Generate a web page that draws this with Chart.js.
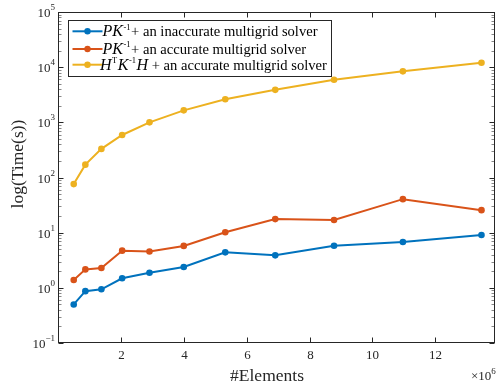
<!DOCTYPE html>
<html>
<head>
<meta charset="utf-8">
<script src="https://cdn.jsdelivr.net/npm/chart.js@4"></script>
<style>
  html, body { margin: 0; padding: 0; background: #fff; }
  canvas { display: block; }
</style>
</head>
<body>
<canvas id="timing_chart" width="499" height="388"></canvas>
<script>
// number of elements, in millions (x10^6)
var elementsM = [0.50, 0.87, 1.38, 2.04, 2.91, 4.00, 5.32, 6.91, 8.78, 10.97, 13.47];

// solve times in seconds
var inaccurateTimes = [0.50, 0.87, 0.94, 1.49, 1.88, 2.38, 4.4, 3.88, 5.8, 6.76, 9.05];
var accurateTimes   = [1.39, 2.16, 2.29, 4.72, 4.57, 5.75, 10.2, 17.6, 17.0, 40.5, 25.6];
var hkhTimes        = [76, 171, 330, 590, 1000, 1650, 2620, 3880, 5900, 8400, 12000];

var seriesNames = [
  "PK\u207B\u00B9+ an inaccurate multigrid solver",
  "PK\u207B\u00B9+ an accurate multigrid solver",
  "H\u1D40K\u207B\u00B9H + an accurate multigrid solver"
];
// same names, split for italic (i) / superscript (s) drawing in the legend
var legendParts = [
  [["PK", "i"], ["-1", "s"], ["+ an inaccurate multigrid solver", ""]],
  [["PK", "i"], ["-1", "s"], ["+ an accurate multigrid solver", ""]],
  [["H", "i"], ["T", "s"], ["K", "i"], ["-1", "s"], ["H", "i"], [" + an accurate multigrid solver", ""]]
];
var seriesColors = ["#0072BD", "#D95319", "#EDB120"];

var xTicks = [2, 4, 6, 8, 10, 12];
var yDecades = [-1, 0, 1, 2, 3, 4, 5];

var xTitle = "#Elements";
var yTitle = "log(Time(s))";

var FONT = "'Liberation Serif', 'Times New Roman', serif";
var INK = "#262626";

function toPoints(ys) {
  return elementsM.map(function (x, i) { return { x: x, y: ys[i] }; });
}

function drawRich(ctx, parts, x, y) {
  parts.forEach(function (p) {
    var txt = p[0], dy = 0;
    if (p[1] === "i") {
      ctx.font = "italic 16px " + FONT;
    } else if (p[1] === "s") {
      ctx.font = "8.5px " + FONT;
      dy = -6.5;
      x += 0.5;
    } else {
      ctx.font = "14.6px " + FONT;
    }
    ctx.fillText(txt, x, y + dy);
    x += ctx.measureText(txt).width + (p[1] === "s" ? 0.5 : 0);
  });
}

var matlabAxes = {
  id: "matlabAxes",
  afterDraw: function (chart) {
    var ctx = chart.ctx, a = chart.chartArea;
    var xs = chart.scales.x, ys = chart.scales.y;
    ctx.save();
    ctx.strokeStyle = INK;
    ctx.fillStyle = INK;
    ctx.lineWidth = 1;

    // box
    var L = Math.round(a.left) + 0.5, R = Math.round(a.right) - 0.5;
    var T = Math.round(a.top) + 0.5, B = Math.round(a.bottom) - 0.5;
    ctx.strokeRect(L, T, R - L, B - T);

    // x ticks
    ctx.font = "13px " + FONT;
    ctx.textAlign = "center";
    ctx.textBaseline = "middle";
    xTicks.forEach(function (v) {
      var px = Math.round(xs.getPixelForValue(v)) + 0.5;
      ctx.beginPath();
      ctx.moveTo(px, B); ctx.lineTo(px, B - 5);
      ctx.moveTo(px, T); ctx.lineTo(px, T + 5);
      ctx.stroke();
      ctx.fillText(String(v), px, B + 13);
    });

    // y ticks (major + minor)
    yDecades.forEach(function (e) {
      var py = Math.round(ys.getPixelForValue(Math.pow(10, e))) + 0.5;
      ctx.strokeStyle = INK;
      ctx.beginPath();
      ctx.moveTo(L, py); ctx.lineTo(L + 5, py);
      ctx.moveTo(R, py); ctx.lineTo(R - 5, py);
      ctx.stroke();

      var ex = e < 0 ? "\u2212" + (-e) : String(e);
      ctx.textAlign = "left";
      ctx.font = "9px " + FONT;
      var w2 = ctx.measureText(ex).width;
      ctx.font = "13px " + FONT;
      var w1 = ctx.measureText("10").width;
      var right = 55;
      ctx.fillText("10", right - w2 - w1, py + 1);
      ctx.font = "9px " + FONT;
      ctx.fillText(ex, right - w2, py - 5);

      if (e < 5) {
        ctx.strokeStyle = "rgba(38,38,38,0.55)";
        for (var m = 2; m <= 9; m++) {
          var pm = Math.round(ys.getPixelForValue(m * Math.pow(10, e))) + 0.5;
          ctx.beginPath();
          ctx.moveTo(L, pm); ctx.lineTo(L + 3, pm);
          ctx.moveTo(R, pm); ctx.lineTo(R - 3, pm);
          ctx.stroke();
        }
      }
    });

    // axis titles
    ctx.fillStyle = INK;
    ctx.font = "17.5px " + FONT;
    ctx.textAlign = "center";
    ctx.textBaseline = "alphabetic";
    ctx.fillText(xTitle, 267, 381);
    ctx.save();
    ctx.translate(23, 164);
    ctx.rotate(-Math.PI / 2);
    ctx.fillText(yTitle, 0, 0);
    ctx.restore();

    // x10^6 multiplier
    ctx.textAlign = "left";
    ctx.textBaseline = "middle";
    ctx.font = "13px " + FONT;
    ctx.fillText("\u00D710", 471, 377);
    var wm = ctx.measureText("\u00D710").width;
    ctx.font = "9px " + FONT;
    ctx.fillText("6", 471 + wm, 372);

    // legend
    ctx.fillStyle = "#fff";
    ctx.fillRect(68.5, 20.5, 263, 56);
    ctx.strokeStyle = INK;
    ctx.strokeRect(68.5, 20.5, 263, 56);
    var rows = [31.3, 49, 64.7];
    ctx.textBaseline = "alphabetic";
    chart.data.datasets.forEach(function (ds, i) {
      var ry = rows[i];
      ctx.strokeStyle = ds.borderColor;
      ctx.lineWidth = 2;
      ctx.beginPath();
      ctx.moveTo(72.5, ry); ctx.lineTo(102.5, ry);
      ctx.stroke();
      ctx.fillStyle = ds.borderColor;
      ctx.beginPath();
      ctx.arc(87.5, ry, 3.2, 0, Math.PI * 2);
      ctx.fill();
      ctx.fillStyle = "#000";
      ctx.textAlign = "left";
      drawRich(ctx, legendParts[i], i === 2 ? 100 : 102.5, ry + 4.8);
    });
    ctx.restore();
  }
};

function makeSet(i, ys) {
  return {
    label: seriesNames[i],
    data: toPoints(ys),
    borderColor: seriesColors[i],
    backgroundColor: seriesColors[i],
    pointBackgroundColor: seriesColors[i],
    pointBorderColor: seriesColors[i],
    borderWidth: 2,
    pointRadius: 3.3,
    pointBorderWidth: 0,
    lineTension: 0,
    fill: false
  };
}

var hiddenAxis = {
  ticks: { display: false },
  grid: { display: false },
  border: { display: false }
};

new Chart(document.getElementById("timing_chart"), {
  type: "line",
  data: {
    datasets: [
      makeSet(0, inaccurateTimes),
      makeSet(1, accurateTimes),
      makeSet(2, hkhTimes)
    ]
  },
  options: {
    responsive: false,
    devicePixelRatio: 1,
    animation: false,
    layout: { padding: { left: 0, top: 12, right: 3, bottom: 0 } },
    plugins: {
      legend: { display: false },
      tooltip: { enabled: false }
    },
    scales: {
      x: Object.assign({}, hiddenAxis, {
        type: "linear",
        min: 0,
        max: 13.9,
        afterFit: function (s) { s.height = 45; }
      }),
      y: Object.assign({}, hiddenAxis, {
        type: "logarithmic",
        min: 0.1,
        max: 100000,
        afterFit: function (s) { s.width = 58; }
      })
    }
  },
  plugins: [matlabAxes]
});
</script>
</body>
</html>
